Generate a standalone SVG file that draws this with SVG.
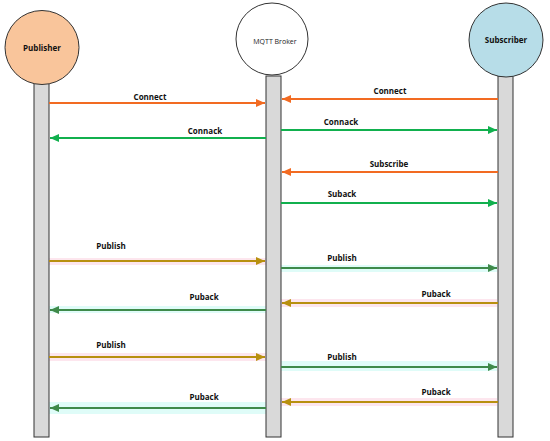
<svg xmlns="http://www.w3.org/2000/svg" width="550" height="441" viewBox="0 0 550 441">
<style>
.life{fill:#d9d9d9;stroke:#333;stroke-width:1}
.head{stroke:#333;stroke-width:1}
.lbl{font-family:"Open Sans","Liberation Sans",sans-serif;font-size:8px;font-weight:bold;fill:#111;text-anchor:middle}
.name{font-family:"Open Sans","Liberation Sans",sans-serif;font-size:8px;font-weight:bold;fill:#111;text-anchor:middle}
.c{fill:none;stroke-width:2}
.or{stroke:#f26b22}
.gr{stroke:#11b04e}
.go{stroke:#b8900f}
.dg{stroke:#3f8a4a}
.pk{fill:#fde6ee}
.cy{fill:#dffcf8}
</style>
<defs>
<marker id="mOr" markerWidth="10" markerHeight="8" refX="9" refY="4" orient="auto" markerUnits="userSpaceOnUse"><path d="M0,0 L9,4 L0,8 z" fill="#f26b22"/></marker>
<marker id="mGr" markerWidth="10" markerHeight="8" refX="9" refY="4" orient="auto" markerUnits="userSpaceOnUse"><path d="M0,0 L9,4 L0,8 z" fill="#11b04e"/></marker>
<marker id="mGo" markerWidth="10" markerHeight="8" refX="9" refY="4" orient="auto" markerUnits="userSpaceOnUse"><path d="M0,0 L9,4 L0,8 z" fill="#b8900f"/></marker>
<marker id="mDg" markerWidth="10" markerHeight="8" refX="9" refY="4" orient="auto" markerUnits="userSpaceOnUse"><path d="M0,0 L9,4 L0,8 z" fill="#3f8a4a"/></marker>
</defs>
<rect width="550" height="441" fill="#fff"/>
<g id="bands">
<rect class="pk" x="49" y="258" width="222" height="7"/>
<rect class="cy" x="281" y="265" width="216" height="7"/>
<rect class="cy" x="49" y="306" width="222" height="7"/>
<rect class="pk" x="281" y="299" width="216" height="8"/>
<rect class="pk" x="49" y="353" width="222" height="8"/>
<rect class="cy" x="281" y="361" width="216" height="10"/>
<rect class="cy" x="49" y="402" width="222" height="12"/>
<rect class="pk" x="281" y="398" width="216" height="8"/>
</g>
<g id="publisher">
<rect class="life" x="34" y="83" width="15" height="354"/>
<circle class="head" cx="42" cy="47.5" r="37" fill="#f9c59b"/>
<text class="name" x="42" y="50.5">Publisher</text>
</g>
<g id="broker">
<rect class="life" x="266" y="76" width="15" height="361"/>
<circle class="head" cx="272" cy="39" r="36" fill="#fff"/>
<text x="275" y="44" font-family="'Open Sans','Liberation Sans',sans-serif" font-size="7" fill="#222" text-anchor="middle">MQTT Broker</text>
</g>
<g id="subscriber">
<rect class="life" x="498" y="76" width="15" height="361"/>
<circle class="head" cx="506" cy="40" r="37" fill="#b7dde8"/>
<text class="name" x="506" y="43">Subscriber</text>
</g>
<g id="connectors">
<line class="c or" x1="49" y1="103" x2="265" y2="103" marker-end="url(#mOr)"/>
<line class="c or" x1="498" y1="99" x2="282" y2="99" marker-end="url(#mOr)"/>
<line class="c gr" x1="266" y1="138" x2="50" y2="138" marker-end="url(#mGr)"/>
<line class="c gr" x1="281" y1="130" x2="497" y2="130" marker-end="url(#mGr)"/>
<line class="c or" x1="498" y1="172" x2="282" y2="172" marker-end="url(#mOr)"/>
<line class="c gr" x1="281" y1="203" x2="497" y2="203" marker-end="url(#mGr)"/>
<line class="c go" x1="49" y1="261" x2="265" y2="261" marker-end="url(#mGo)"/>
<line class="c dg" x1="281" y1="268" x2="497" y2="268" marker-end="url(#mDg)"/>
<line class="c dg" x1="266" y1="310" x2="50" y2="310" marker-end="url(#mDg)"/>
<line class="c go" x1="498" y1="303" x2="282" y2="303" marker-end="url(#mGo)"/>
<line class="c go" x1="49" y1="357" x2="265" y2="357" marker-end="url(#mGo)"/>
<line class="c dg" x1="281" y1="367" x2="497" y2="367" marker-end="url(#mDg)"/>
<line class="c dg" x1="266" y1="408" x2="50" y2="408" marker-end="url(#mDg)"/>
<line class="c go" x1="498" y1="402" x2="282" y2="402" marker-end="url(#mGo)"/>
</g>
<g id="labels">
<text class="lbl" x="150" y="100">Connect</text>
<text class="lbl" x="390" y="94">Connect</text>
<text class="lbl" x="205" y="134">Connack</text>
<text class="lbl" x="341" y="125">Connack</text>
<text class="lbl" x="389" y="167">Subscribe</text>
<text class="lbl" x="342" y="197">Suback</text>
<text class="lbl" x="111" y="249">Publish</text>
<text class="lbl" x="342" y="261">Publish</text>
<text class="lbl" x="204" y="300">Puback</text>
<text class="lbl" x="436" y="297">Puback</text>
<text class="lbl" x="111" y="348">Publish</text>
<text class="lbl" x="342" y="360">Publish</text>
<text class="lbl" x="204" y="400">Puback</text>
<text class="lbl" x="436" y="395">Puback</text>
</g>
</svg>
